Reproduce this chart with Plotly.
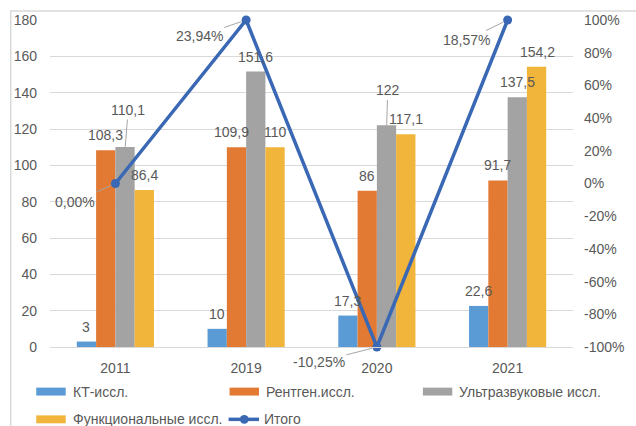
import plotly.graph_objects as go

years = ["2011", "2019", "2020", "2021"]
series_names = ["КТ-иссл.", "Рентген.иссл.", "Ультразвуковые иссл.", "Функциональные иссл."]
kt = [3, 10, 17.3, 22.6]
rentgen = [108.3, 109.9, 86, 91.7]
uzi = [110.1, 151.6, 122, 137.5]
func = [86.4, 110, 117.1, 154.2]
total_name = "Итого"
total_plotted = [0.0, 1.0, -1.0, 1.0]
total_labels = ["0,00%", "23,94%", "-10,25%", "18,57%"]
left_ticks = list(range(0, 181, 20))
right_tick_pcts = list(range(-100, 101, 20))
right_tick_labels = ["%d%%" % p for p in right_tick_pcts]

colors = ["#5b9bd5", "#e27a34", "#a3a3a3", "#f0b53a"]
line_color = "#3a68b4"
text_color = "#595959"
FONT = "Liberation Sans"

W, H = 636, 426
ML, MR, MT, MB = 50, 53, 17, 79
PW = W - ML - MR
PH = H - MT - MB
BARGAP = 0.41

fig = go.Figure()
all_series = [kt, rentgen, uzi, func]
for name, vals, col in zip(series_names, all_series, colors):
    fig.add_trace(go.Bar(x=years, y=vals, name=name, marker_color=col,
                         marker_line_width=0, showlegend=False))

fig.add_trace(go.Scatter(x=years, y=total_plotted, name=total_name, yaxis="y2",
                         mode="lines+markers", line=dict(color=line_color, width=3.5),
                         marker=dict(size=9, color=line_color), showlegend=False,
                         cliponaxis=False))

def fmt(v):
    return ("%g" % v).replace(".", ",")

annotations = []
cat_w = PW / len(years)
bar_w = cat_w * (1 - BARGAP) / len(all_series)
# per-label manual tweaks (dx, dy in px) mimicking the reference's moved labels
tweaks = {
    (1, 1): (-5, 0),
    (2, 0): (3, 22),
    (2, 2): (1, 20),
}
for si, vals in enumerate(all_series):
    off = (si - (len(all_series) - 1) / 2) * bar_w
    for ci, v in enumerate(vals):
        dx, dy = tweaks.get((si, ci), (0, 0))
        if dy > 10:
            annotations.append(dict(x=ci, y=v, xref="x", yref="y", text=fmt(v),
                                    xshift=off, showarrow=True, arrowhead=0,
                                    arrowwidth=1, arrowcolor="#a6a6a6",
                                    ax=dx, ay=-(15 + dy), standoff=0,
                                    font=dict(size=14, color=text_color, family=FONT)))
        else:
            annotations.append(dict(x=ci, y=v, xref="x", yref="y", text=fmt(v),
                                    xshift=off + dx, yshift=15 + dy, showarrow=False,
                                    font=dict(size=14, color=text_color, family=FONT)))

pct_offsets = [(-40, 18), (-47, 16), (-58, 15), (-41, 20)]
for ci, (lab, v) in enumerate(zip(total_labels, total_plotted)):
    ax, ay = pct_offsets[ci]
    annotations.append(dict(x=ci, y=v, xref="x", yref="y2", text=lab,
                            showarrow=True, arrowhead=0, arrowwidth=1,
                            arrowcolor="#a6a6a6", ax=ax, ay=ay, standoff=5,
                            font=dict(size=14, color=text_color, family=FONT)))

# custom legend (wide swatches like the original)
shapes = []
def px2paper_x(px):
    return (px - ML) / PW
def px2paper_y(py):
    return (H - MB - py) / PH

legend_items = [(series_names[0], 0, 36, 392), (series_names[1], 1, 233, 392),
                (series_names[2], 2, 430, 392), (series_names[3], 3, 36, 420)]
for name, ci, x0, yc in legend_items:
    shapes.append(dict(type="rect", xref="paper", yref="paper",
                       x0=px2paper_x(x0), x1=px2paper_x(x0 + 30),
                       y0=px2paper_y(yc + 4), y1=px2paper_y(yc - 4),
                       fillcolor=colors[ci], line=dict(width=0)))
    annotations.append(dict(x=px2paper_x(x0 + 35), y=px2paper_y(yc), xref="paper", yref="paper",
                            text=name, showarrow=False, xanchor="left", yanchor="middle",
                            font=dict(size=14, color=text_color, family=FONT)))
shapes.append(dict(type="line", xref="paper", yref="paper",
                   x0=px2paper_x(232), x1=px2paper_x(263),
                   y0=px2paper_y(420), y1=px2paper_y(420),
                   line=dict(color=line_color, width=3.5)))
shapes.append(dict(type="circle", xref="paper", yref="paper",
                   x0=px2paper_x(243.5), x1=px2paper_x(252.5),
                   y0=px2paper_y(424.5), y1=px2paper_y(415.5),
                   fillcolor=line_color, line=dict(width=0)))
annotations.append(dict(x=px2paper_x(266), y=px2paper_y(420), xref="paper", yref="paper",
                        text=total_name, showarrow=False, xanchor="left", yanchor="middle",
                        font=dict(size=14, color=text_color, family=FONT)))

# chart frame
shapes.append(dict(type="rect", xref="paper", yref="paper", layer="below",
                   x0=px2paper_x(10), x1=px2paper_x(W + 20),
                   y0=px2paper_y(H + 20), y1=px2paper_y(8),
                   line=dict(color="#d9d9d9", width=1.5), fillcolor="rgba(0,0,0,0)"))

fig.update_layout(
    width=W, height=H,
    margin=dict(l=ML, r=MR, t=MT, b=MB),
    paper_bgcolor="white", plot_bgcolor="white",
    barmode="group", bargap=BARGAP, bargroupgap=0,
    showlegend=False,
    font=dict(family=FONT, size=14, color=text_color),
    xaxis=dict(type="category", range=[-0.5, len(years) - 0.5], autorange=False,
               showgrid=False, showline=True, linecolor="#d9d9d9",
               linewidth=1, ticks="", tickfont=dict(size=14, color=text_color),
               ticklabelstandoff=8, zeroline=False),
    yaxis=dict(range=[0, 180], autorange=False, tickvals=left_ticks, showgrid=True,
               gridcolor="#d9d9d9", gridwidth=1, zeroline=False, showline=False, ticks="",
               tickfont=dict(size=14, color=text_color), ticklabelstandoff=12),
    yaxis2=dict(range=[-1, 1], autorange=False,
                tickvals=[p / 100 for p in right_tick_pcts], ticktext=right_tick_labels,
                overlaying="y", side="right",
                showgrid=False, zeroline=False, showline=False, ticks="",
                tickfont=dict(size=14, color=text_color), ticklabelstandoff=10),
    annotations=annotations,
    shapes=shapes,
)

fig.write_html("out.html", config={"displayModeBar": False},
               post_script="document.body.style.margin='0';document.body.style.overflow='hidden';")
